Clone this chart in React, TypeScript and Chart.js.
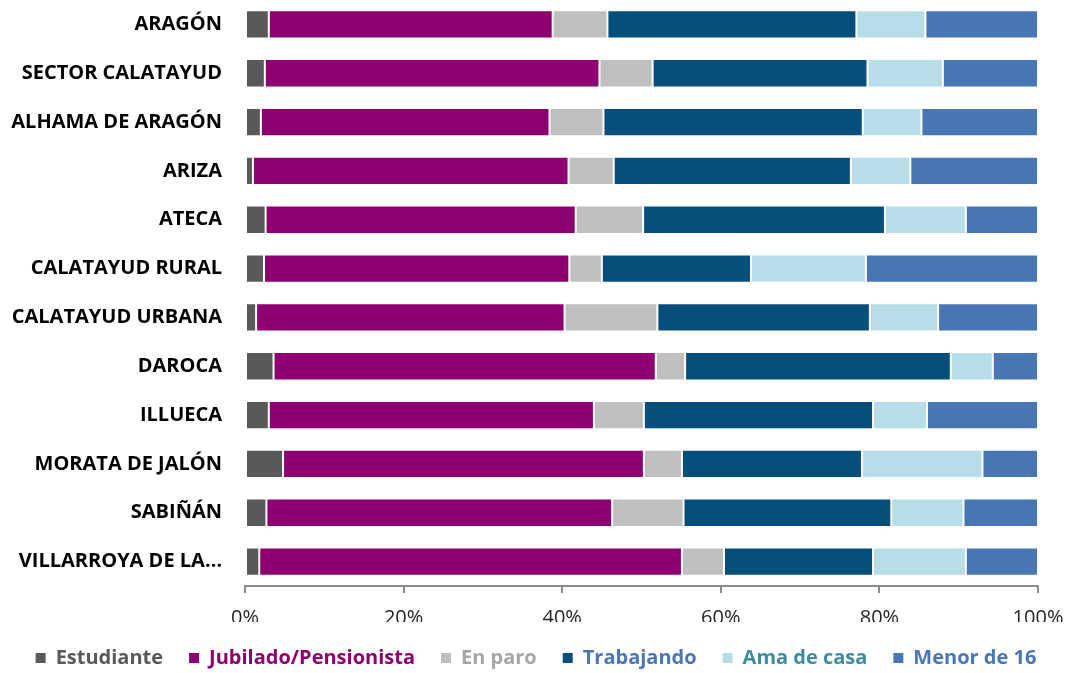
import React, { useEffect, useRef } from "react";
import { Chart, registerables } from "chart.js";

Chart.register(...registerables);

const categories = [
  "ARAGÓN",
  "SECTOR CALATAYUD",
  "ALHAMA DE ARAGÓN",
  "ARIZA",
  "ATECA",
  "CALATAYUD RURAL",
  "CALATAYUD URBANA",
  "DAROCA",
  "ILLUECA",
  "MORATA DE JALÓN",
  "SABIÑÁN",
  "VILLARROYA DE LA…",
];

const estudiante = [3.0, 2.5, 2.0, 1.0, 2.6, 2.4, 1.4, 3.6, 3.0, 4.8, 2.7, 1.8];
const jubilado = [35.8, 42.2, 36.4, 39.8, 39.1, 38.5, 38.9, 48.2, 41.0, 45.5, 43.6, 53.3];
const enParo = [6.9, 6.7, 6.8, 5.7, 8.5, 4.1, 11.7, 3.7, 6.3, 4.8, 9.0, 5.3];
const trabajando = [31.4, 27.1, 32.7, 29.9, 30.5, 18.8, 26.8, 33.5, 28.9, 22.7, 26.2, 18.8];
const amaDeCasa = [8.7, 9.5, 7.4, 7.5, 10.2, 14.5, 8.6, 5.3, 6.8, 15.2, 9.1, 11.7];
const menor16 = [14.2, 12.0, 14.7, 16.1, 9.1, 21.7, 12.6, 5.7, 14.0, 7.0, 9.4, 9.1];

const xTicks = [0, 20, 40, 60, 80, 100];

const FONT = "'Open Sans', 'Liberation Sans', sans-serif";

const seriesDefs = [
  { label: "Estudiante", data: estudiante, color: "#595959", text: "#595959" },
  { label: "Jubilado/Pensionista", data: jubilado, color: "#8E0072", text: "#8E0072" },
  { label: "En paro", data: enParo, color: "#BFBFBF", text: "#A6A6A6" },
  { label: "Trabajando", data: trabajando, color: "#064E7C", text: "#4A76B8" },
  { label: "Ama de casa", data: amaDeCasa, color: "#B7DDE8", text: "#3A8CA0" },
  { label: "Menor de 16", data: menor16, color: "#4876B4", text: "#4A76B8" },
];

export default function App() {
  const canvasRef = useRef<HTMLCanvasElement | null>(null);

  useEffect(() => {
    document.body.style.margin = "0";
    const canvas = canvasRef.current;
    if (!canvas) return;
    const chart = new Chart(canvas, {
      type: "bar",
      data: {
        labels: categories,
        datasets: seriesDefs.map((s) => ({
          label: s.label,
          data: s.data,
          backgroundColor: s.color,
          borderColor: "#FFFFFF",
          borderWidth: 1,
          borderSkipped: false,
          categoryPercentage: 1,
          barPercentage: 0.58,
        })),
      },
      options: {
        indexAxis: "y",
        responsive: false,
        animation: false,
        maintainAspectRatio: false,
        layout: { padding: { left: 0, right: 0, top: 0, bottom: -5 } },
        scales: {
          x: {
            stacked: true,
            min: 0,
            max: 100,
            afterBuildTicks: (scale: any) => {
              scale.ticks = xTicks.map((v) => ({ value: v }));
            },
            afterFit: (scale: any) => {
              scale.height = 36;
              scale.paddingLeft = 0;
              scale.paddingRight = 0;
            },
            ticks: {
              callback: (v: any) => v + "%",
              font: { family: FONT, size: 20 },
              color: "#262626",
              padding: 13,
              maxRotation: 0,
            },
            grid: {
              display: true,
              drawOnChartArea: false,
              drawTicks: true,
              tickLength: 7,
              color: "#8C8C8C",
              lineWidth: 2,
            },
            border: { display: true, color: "#8C8C8C", width: 2 },
          },
          y: {
            stacked: true,
            afterFit: (scale: any) => {
              scale.width = 245;
              scale.paddingTop = 0;
              scale.paddingBottom = 0;
            },
            ticks: {
              font: { family: FONT, size: 20, weight: "bold" },
              color: "#000000",
              padding: 3,
            },
            grid: { display: false, drawTicks: true, tickLength: 20 },
            border: { display: false },
          },
          // empty right-hand gutter so the plot ends short of the canvas edge
          gutter: {
            type: "linear",
            position: "right",
            display: true,
            afterFit: (scale: any) => {
              scale.width = 34;
              scale.paddingTop = 0;
              scale.paddingBottom = 0;
            },
            ticks: { display: false },
            grid: { display: false, drawTicks: false },
            border: { display: false },
          },
        },
        plugins: {
          tooltip: { enabled: false },
          legend: {
            position: "bottom",
            labels: {
              boxWidth: 10,
              boxHeight: 10,
              padding: 26,
              font: { family: FONT, size: 20, weight: "bold" },
              generateLabels: (c: any) =>
                seriesDefs.map((s, i) => ({
                  text: s.label,
                  fillStyle: s.color,
                  strokeStyle: s.color,
                  lineWidth: 0,
                  fontColor: s.text,
                  hidden: !c.isDatasetVisible(i),
                  datasetIndex: i,
                })),
            },
          },
        },
      },
    });
    return () => chart.destroy();
  }, []);

  return (
    <div style={{ width: 1072, height: 673 }}>
      <canvas ref={canvasRef} width={1072} height={673} style={{ display: "block" }} />
    </div>
  );
}
